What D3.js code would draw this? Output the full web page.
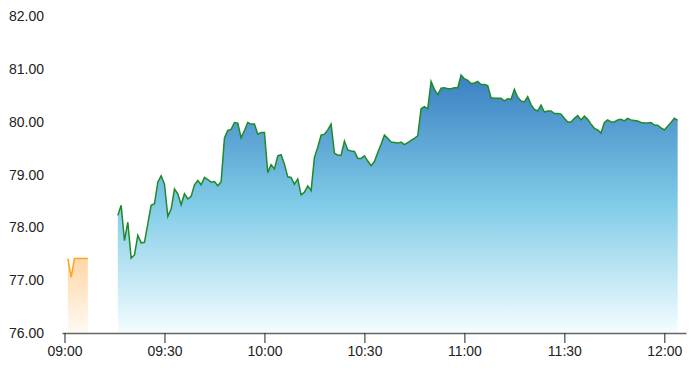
<!DOCTYPE html>
<html>
<head>
<meta charset="utf-8">
<script src="https://cdn.jsdelivr.net/npm/d3@7"></script>
<style>
  body { margin: 0; background: #fff; }
  svg { display: block; font-family: "Liberation Sans", Arial, sans-serif; }
  .tick text { font-size: 14px; fill: #222; }
</style>
</head>
<body>
<div class="chart"></div>
<script>
// pre-open auction (orange) and continuous session (blue), one price per minute
var preTimes = ["09:01", "09:02", "09:03", "09:07"];
var preValues = [77.41, 77.06, 77.41, 77.41];

var sessionStart = "09:16";
var sessionValues = [
  78.23, 78.42, 77.75, 78.10, 77.42, 77.48, 77.85, 77.71, 77.72, 78.07,
  78.42, 78.45, 78.86, 78.98, 78.82, 78.21, 78.35, 78.73, 78.64, 78.43,
  78.64, 78.54, 78.59, 78.81, 78.89, 78.81, 78.95, 78.91, 78.86, 78.87,
  78.79, 78.87, 79.70, 79.84, 79.86, 79.99, 79.98, 79.70, 79.84, 79.99,
  79.96, 79.96, 79.77, 79.80, 79.80, 79.04, 79.19, 79.11, 79.36, 79.38,
  79.20, 78.96, 78.95, 78.82, 78.92, 78.62, 78.67, 78.79, 78.70, 79.33,
  79.52, 79.75, 79.77, 79.85, 79.96, 79.41, 79.37, 79.37, 79.64, 79.47,
  79.45, 79.44, 79.31, 79.31, 79.36, 79.26, 79.17, 79.25, 79.42, 79.58,
  79.75, 79.69, 79.62, 79.61, 79.60, 79.62, 79.57, 79.61, 79.65, 79.69,
  79.74, 80.25, 80.29, 80.25, 80.77, 80.62, 80.52, 80.64, 80.65, 80.63,
  80.63, 80.65, 80.65, 80.89, 80.82, 80.79, 80.73, 80.74, 80.77, 80.71,
  80.71, 80.69, 80.46, 80.45, 80.45, 80.45, 80.40, 80.44, 80.43, 80.62,
  80.47, 80.40, 80.38, 80.48, 80.33, 80.24, 80.21, 80.32, 80.19, 80.21,
  80.21, 80.16, 80.16, 80.15, 80.07, 80.00, 80.00, 80.07, 80.12, 80.04,
  80.11, 80.05, 79.96, 79.88, 79.85, 79.79, 79.99, 80.04, 80.00, 80.00,
  80.04, 80.05, 80.02, 80.07, 80.04, 80.03, 80.02, 79.99, 79.98, 79.98,
  79.99, 79.94, 79.94, 79.89, 79.85, 79.92, 79.99, 80.07, 80.03
];

var xDomain = ["08:59:15", "12:06:30"];
var xTicks = ["09:00", "09:30", "10:00", "10:30", "11:00", "11:30", "12:00"];
var yTicks = [76, 77, 78, 79, 80, 81, 82];

draw();

function draw() {
    var width = 691;
    var height = 383;
    var parseTime = function (s) {
        return s.length > 5 ? d3.timeParse("%H:%M:%S")(s) : d3.timeParse("%H:%M")(s);
    };

    var start = parseTime(sessionStart);
    var session = sessionValues.map(function (v, i) {
        return { t: d3.timeMinute.offset(start, i), v: v };
    });
    var pre = preTimes.map(function (t, i) {
        return { t: parseTime(t), v: preValues[i] };
    });

    var x = d3.scaleTime()
        .domain(xDomain.map(parseTime))
        .range([62, 686]);

    var y = d3.scaleLinear()
        .domain([76, 82])
        .range([333, 16.5]);

    var svg = d3.select('.chart')
        .append('svg')
        .attr('width', width)
        .attr('height', height);

    var defs = svg.append('defs');

    var blueGrad = defs.append('linearGradient')
        .attr('id', 'blue-grad')
        .attr('x1', 0).attr('y1', 0)
        .attr('x2', 0).attr('y2', 1);
    blueGrad.append('stop').attr('offset', '0%').attr('stop-color', '#3a80c2');
    blueGrad.append('stop').attr('offset', '50%').attr('stop-color', '#80cbe7');
    blueGrad.append('stop').attr('offset', '100%').attr('stop-color', '#f4fdff');

    var orangeGrad = defs.append('linearGradient')
        .attr('id', 'orange-grad')
        .attr('x1', 0).attr('y1', 0)
        .attr('x2', 0).attr('y2', 1);
    orangeGrad.append('stop').attr('offset', '0%').attr('stop-color', '#ffd6a6');
    orangeGrad.append('stop').attr('offset', '100%').attr('stop-color', '#fffaf4');

    var area = d3.area()
        .x(function (d) { return x(d.t); })
        .y0(y(76))
        .y1(function (d) { return y(d.v); });

    var line = d3.line()
        .x(function (d) { return x(d.t); })
        .y(function (d) { return y(d.v); });

    // areas
    svg.append('path')
        .datum(pre)
        .attr('d', area)
        .attr('fill', 'url(#orange-grad)');

    svg.append('path')
        .datum(session)
        .attr('d', area)
        .attr('fill', 'url(#blue-grad)');

    // lines
    svg.append('path')
        .datum(pre)
        .attr('d', line)
        .attr('fill', 'none')
        .attr('stroke', '#ffa31a')
        .attr('stroke-width', 1.5);

    svg.append('path')
        .datum(session)
        .attr('d', line)
        .attr('fill', 'none')
        .attr('stroke', '#1f8a2a')
        .attr('stroke-width', 1.5);

    // x axis
    var xAxis = d3.axisBottom(x)
        .tickValues(xTicks.map(parseTime))
        .tickFormat(d3.timeFormat('%H:%M'))
        .tickSize(10)
        .tickSizeOuter(0)
        .tickPadding(3);

    var gx = svg.append('g')
        .attr('transform', 'translate(0,' + y(76) + ')')
        .call(xAxis);
    gx.select('.domain').attr('stroke', '#666').attr('stroke-width', 1.5);
    gx.selectAll('.tick line').attr('stroke', '#222');
    gx.selectAll('.tick text').attr('font-family', null).attr('font-size', null);

    // y axis (labels only)
    var yAxis = d3.axisLeft(y)
        .tickValues(yTicks)
        .tickFormat(d3.format('.2f'))
        .tickSize(0)
        .tickPadding(0);

    var gy = svg.append('g')
        .attr('transform', 'translate(44,0)')
        .call(yAxis);
    gy.select('.domain').remove();
    gy.selectAll('.tick text').attr('font-family', null).attr('font-size', null);
}
</script>
</body>
</html>
